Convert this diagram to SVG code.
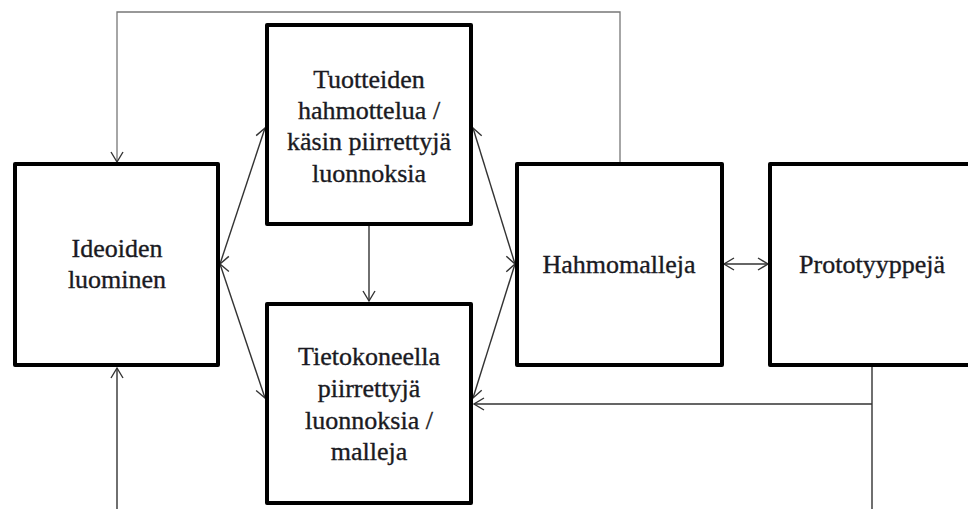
<svg xmlns="http://www.w3.org/2000/svg" width="968" height="509" viewBox="0 0 968 509">
<style>
.box{fill:#fff;stroke:#000;stroke-width:4;stroke-linejoin:round}
.lbl{font-family:'Liberation Serif','DejaVu Serif',serif;font-size:26px;fill:#1a1a22;stroke:#1a1a22;stroke-width:0.35;text-anchor:middle}
.con{fill:none;stroke:#333;stroke-width:1.4}
.fb{fill:none;stroke:#777;stroke-width:1.3}
</style>
<defs>
<marker id="ah" viewBox="-12 -8 14 16" markerWidth="14" markerHeight="16" refX="0" refY="0" orient="auto-start-reverse" markerUnits="userSpaceOnUse">
<path d="M-10,-6 L0,0 L-10,6" fill="none" stroke="#333" stroke-width="1.4"/>
</marker>
</defs>
<rect width="968" height="509" fill="#fff"/>
<g id="connectors">
<path class="fb" d="M620,162 V12 H117 V162" marker-end="url(#ah)"/>
<path class="con" d="M117,509 V368" marker-end="url(#ah)"/>
<path class="con" d="M220,264 L265,128" marker-start="url(#ah)" marker-end="url(#ah)"/>
<path class="con" d="M220,264 L265,398" marker-start="url(#ah)" marker-end="url(#ah)"/>
<path class="con" d="M473,128 L515,264" marker-start="url(#ah)" marker-end="url(#ah)"/>
<path class="con" d="M473,398 L515,264" marker-start="url(#ah)" marker-end="url(#ah)"/>
<path class="con" d="M369,226 V301" marker-end="url(#ah)"/>
<path class="con" d="M724,264 H768" marker-start="url(#ah)" marker-end="url(#ah)"/>
<path class="con" d="M872,367 V509 M872,404 H474" marker-end="url(#ah)"/>
</g>
<g id="ideoiden">
<rect class="box" x="15" y="164" width="203" height="201"/>
<text class="lbl" x="117" y="257">Ideoiden</text>
<text class="lbl" x="117" y="288">luominen</text>
</g>
<g id="tuotteiden">
<rect class="box" x="267" y="25" width="204" height="199"/>
<text class="lbl" x="369" y="88">Tuotteiden</text>
<text class="lbl" x="369" y="119">hahmottelua /</text>
<text class="lbl" x="369" y="150">käsin piirrettyjä</text>
<text class="lbl" x="369" y="182">luonnoksia</text>
</g>
<g id="tietokoneella">
<rect class="box" x="267" y="304" width="204" height="199"/>
<text class="lbl" x="369" y="365">Tietokoneella</text>
<text class="lbl" x="369" y="397">piirrettyjä</text>
<text class="lbl" x="369" y="429">luonnoksia /</text>
<text class="lbl" x="369" y="460">malleja</text>
</g>
<g id="hahmomalleja">
<rect class="box" x="517" y="164" width="205" height="201"/>
<text class="lbl" x="619" y="273">Hahmomalleja</text>
</g>
<g id="prototyyppeja">
<rect class="box" x="770" y="164" width="210" height="201"/>
<text class="lbl" x="872" y="273">Prototyyppejä</text>
</g>
</svg>
